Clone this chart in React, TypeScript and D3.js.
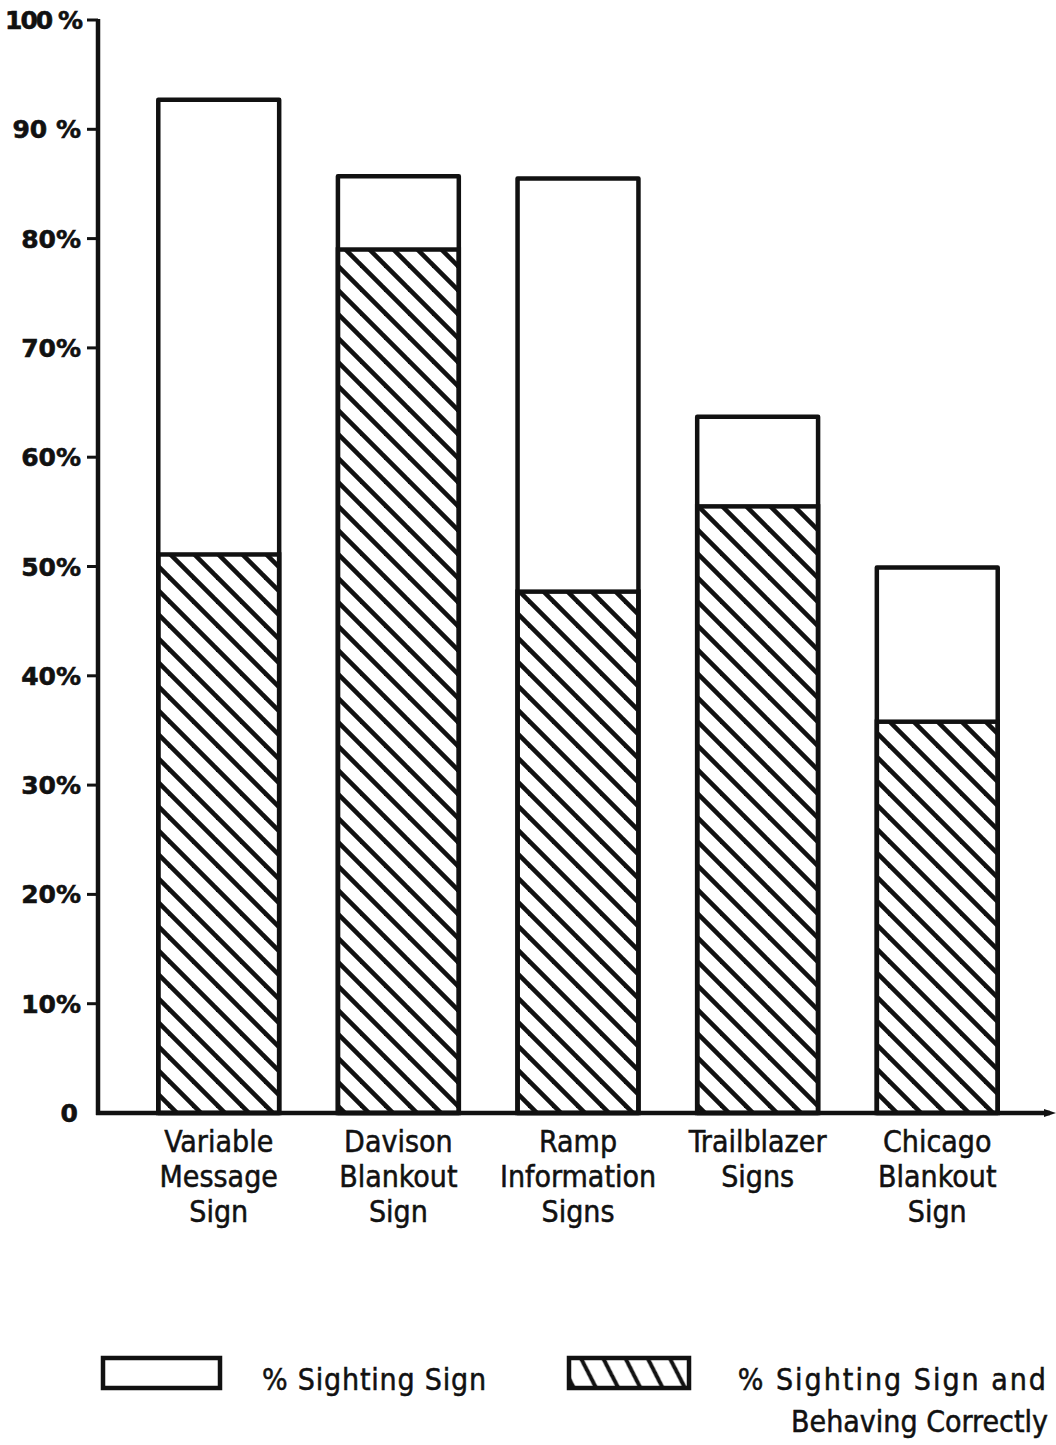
import { useEffect } from 'react'
import * as d3 from 'd3'

// values (%)
const SIGNS = ['Variable Message Sign', 'Davison Blankout Sign', 'Ramp Information Signs', 'Trailblazer Signs', 'Chicago Blankout Sign']
const SIGN_LINES = [
  ['Variable', 'Message', 'Sign'],
  ['Davison', 'Blankout', 'Sign'],
  ['Ramp', 'Information', 'Signs'],
  ['Trailblazer', 'Signs'],
  ['Chicago', 'Blankout', 'Sign'],
]
const PCT_SIGHTING = [92.7, 85.7, 85.5, 63.7, 49.9]
const PCT_BEHAVING = [51.1, 79.0, 47.7, 55.5, 35.8]
const Y_TICKS = [0, 10, 20, 30, 40, 50, 60, 70, 80, 90, 100]
const Y_TICK_LABELS = ['0', '10%', '20%', '30%', '40%', '50%', '60%', '70%', '80%', '90 %', '100 %']
const LEGEND = ['% Sighting Sign', '% Sighting Sign and', 'Behaving Correctly']

const W = 1056
const H = 1445
const INK = '#111'
const LABEL_FONT = "'Liberation Sans Narrow', 'DejaVu Sans Condensed', 'Liberation Sans', sans-serif"
const TICK_FONT = "'DejaVu Sans', 'Liberation Sans', sans-serif"

export default function App() {
  useEffect(() => {
    document.body.style.margin = '0'
    document.body.style.background = '#fff'
  }, [])

  const x = d3.scaleBand<string>()
    .domain(SIGNS)
    .range([99, 1057])
    .paddingInner(0.327)
    .paddingOuter(0.33)
  const y = d3.scaleLinear().domain([0, 100]).range([1113, 20])
  const bw = x.bandwidth()
  const axisX = 98

  return (
    <svg width={W} height={H} style={{ display: 'block', background: '#fff' }}>
      <defs>
        <pattern id="hatch" patternUnits="userSpaceOnUse" width={24} height={24}>
          <line x1={-6} y1={18} x2={6} y2={30} stroke={INK} strokeWidth={4.6} />
          <line x1={0} y1={0} x2={24} y2={24} stroke={INK} strokeWidth={4.6} />
          <line x1={18} y1={-6} x2={30} y2={6} stroke={INK} strokeWidth={4.6} />
        </pattern>
        <pattern id="hatch-legend" patternUnits="userSpaceOnUse" width={28} height={28}
          patternTransform="rotate(18)">
          <line x1={-7} y1={21} x2={7} y2={35} stroke={INK} strokeWidth={4} />
          <line x1={0} y1={0} x2={28} y2={28} stroke={INK} strokeWidth={4} />
          <line x1={21} y1={-7} x2={35} y2={7} stroke={INK} strokeWidth={4} />
        </pattern>
      </defs>

      {/* bars */}
      {SIGNS.map((s, i) => {
        const x0 = x(s)!
        return (
          <g key={s}>
            <rect x={x0} y={y(PCT_SIGHTING[i])} width={bw} height={y(0) - y(PCT_SIGHTING[i])}
              fill="#fff" stroke={INK} strokeWidth={4.5} strokeLinejoin="round" />
            <rect x={x0} y={y(PCT_BEHAVING[i])} width={bw} height={y(0) - y(PCT_BEHAVING[i])}
              fill="url(#hatch)" stroke={INK} strokeWidth={4.5} />
          </g>
        )
      })}

      {/* y axis */}
      <line x1={axisX} x2={axisX} y1={y(100) - 1} y2={y(0) + 2} stroke={INK} strokeWidth={4.5} />
      {Y_TICKS.map((t, i) => (
        <g key={t}>
          {t > 0 && <line x1={axisX - 11} x2={axisX} y1={y(t)} y2={y(t)} stroke={INK} strokeWidth={3} />}
          <text x={t === 0 ? 78 : 81} y={y(t) + 9} textAnchor="end" fontFamily={TICK_FONT}
            fontWeight="bold" fontSize={25} letterSpacing={t === 100 ? -2 : 0} fill={INK}
            stroke={INK} strokeWidth={0.6}>{Y_TICK_LABELS[i]}</text>
        </g>
      ))}

      {/* x axis with arrow */}
      <line x1={axisX - 2} x2={1050} y1={y(0)} y2={y(0)} stroke={INK} strokeWidth={4.5} />
      <path d={`M1044,${y(0) - 4} L1056,${y(0)} L1044,${y(0) + 4} Z`} fill={INK} />

      {/* category labels */}
      {SIGNS.map((s, i) => (
        <text key={s} textAnchor="middle" fontFamily={LABEL_FONT} fontSize={30} fill={INK}
          stroke={INK} strokeWidth={0.5}>
          {SIGN_LINES[i].map((ln, j) => (
            <tspan key={j} x={x(s)! + bw / 2} y={1152 + j * 35}>{ln}</tspan>
          ))}
        </text>
      ))}

      {/* legend */}
      <rect x={103} y={1358} width={117} height={30} fill="#fff" stroke={INK} strokeWidth={4.5} />
      <text x={262} y={1390} fontFamily={LABEL_FONT} fontSize={30} letterSpacing={0.8} fill={INK}
        stroke={INK} strokeWidth={0.5}>{LEGEND[0]}</text>
      <rect x={569} y={1358} width={120} height={30} fill="url(#hatch-legend)" stroke={INK} strokeWidth={4.5} />
      <text x={1048} y={1390} textAnchor="end" fontFamily={LABEL_FONT} fontSize={30} letterSpacing={2} fill={INK}
        stroke={INK} strokeWidth={0.5}>{LEGEND[1]}</text>
      <text x={1048} y={1432} textAnchor="end" fontFamily={LABEL_FONT} fontSize={30} letterSpacing={0} fill={INK}
        stroke={INK} strokeWidth={0.5}>{LEGEND[2]}</text>
    </svg>
  )
}
